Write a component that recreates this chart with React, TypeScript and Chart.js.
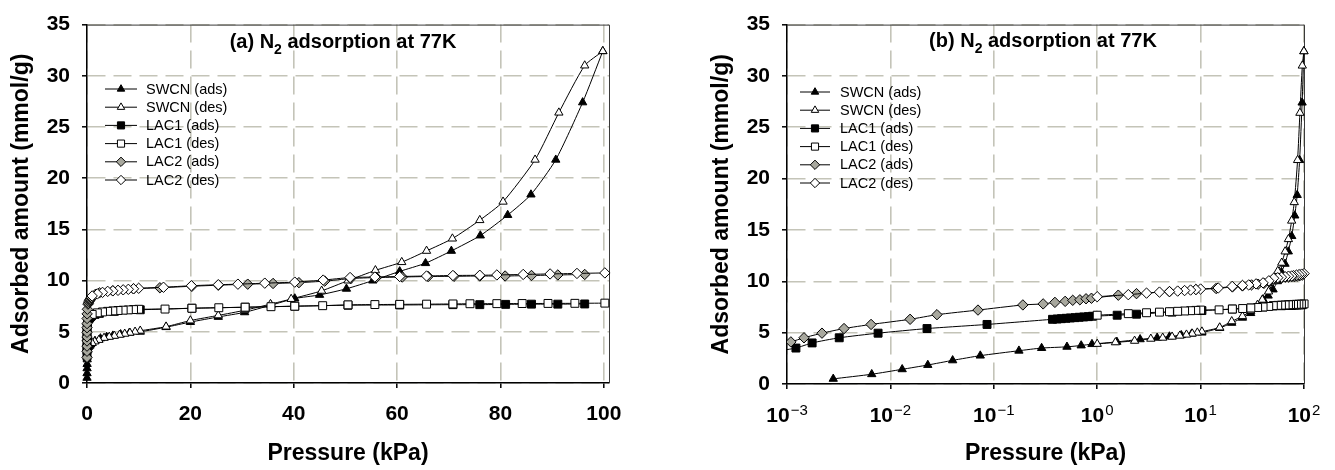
import React, { useEffect, useRef } from "react";
import { Chart, registerables } from "chart.js";

Chart.register(...registerables);

const FONT = "'Liberation Sans', Arial, Helvetica, sans-serif";

// ---------------- data ----------------
const seriesLabels = ["SWCN (ads)", "SWCN (des)", "LAC1 (ads)", "LAC1 (des)", "LAC2 (ads)", "LAC2 (des)"];

// pressure (kPa) / adsorbed amount (mmol/g)
const swcnAdsP = [0.0028, 0.0066, 0.013, 0.023, 0.04, 0.074, 0.175, 0.29, 0.51, 0.7, 0.89, 1.55, 2.6, 3.8, 5.0, 6.5, 8.2, 10.3, 15.3, 20.0, 25.4, 30.5, 35.6, 40.2, 45.0, 50.2, 55.3, 60.5, 65.5, 70.5, 76.1, 81.4, 85.9, 90.7, 95.9, 99.8];
const swcnAdsQ = [0.5, 0.95, 1.43, 1.85, 2.3, 2.76, 3.24, 3.5, 3.62, 3.75, 3.88, 4.1, 4.35, 4.5, 4.62, 4.75, 4.9, 5.0, 5.45, 5.95, 6.45, 6.9, 7.6, 8.25, 8.6, 9.2, 10.0, 10.9, 11.7, 12.9, 14.4, 16.4, 18.4, 21.8, 27.4, 32.4];

const swcnDesP = [99.8, 96.3, 91.3, 86.7, 80.5, 76.0, 70.7, 65.7, 60.9, 55.8, 50.5, 45.4, 39.5, 35.5, 30.5, 25.4, 20.0, 15.3, 10.3, 9.3, 8.3, 7.3, 6.3, 5.3, 4.3, 3.3, 2.3, 1.5, 1.0];
const swcnDesQ = [32.4, 31.0, 26.4, 21.8, 17.7, 15.9, 14.1, 12.9, 11.8, 11.0, 10.0, 9.0, 8.2, 7.7, 7.1, 6.6, 6.1, 5.5, 5.1, 5.0, 4.9, 4.8, 4.7, 4.6, 4.5, 4.4, 4.2, 4.05, 3.9];

const lac1AdsP = [0.0004, 0.0008, 0.00122, 0.00175, 0.0032, 0.0076, 0.0226, 0.086, 0.37, 0.41, 0.45, 0.5, 0.55, 0.61, 0.67, 0.74, 0.82, 0.9, 1.56, 2.4, 5.3, 10.3, 20.3, 30.6, 40.2, 50.5, 60.5, 70.8, 76.0, 81.0, 86.0, 91.1, 96.3];
const lac1AdsQ = [2.6, 3.2, 3.5, 4.0, 4.5, 4.95, 5.4, 5.8, 6.3, 6.33, 6.36, 6.4, 6.43, 6.46, 6.5, 6.53, 6.56, 6.6, 6.7, 6.8, 7.0, 7.15, 7.3, 7.4, 7.5, 7.6, 7.62, 7.65, 7.65, 7.68, 7.7, 7.7, 7.72];

const lac1DesP = [100.2, 94.4, 89.2, 84.2, 79.3, 74.1, 70.8, 65.7, 60.5, 55.7, 50.5, 45.6, 40.2, 35.6, 30.6, 25.5, 20.3, 15.1, 10.0, 9.0, 8.0, 7.0, 6.0, 5.0, 4.0, 3.0, 2.0, 1.0];
const lac1DesQ = [7.8, 7.78, 7.77, 7.76, 7.75, 7.74, 7.72, 7.7, 7.68, 7.66, 7.63, 7.55, 7.5, 7.45, 7.4, 7.35, 7.3, 7.22, 7.2, 7.17, 7.14, 7.11, 7.08, 7.04, 7.0, 6.94, 6.85, 6.7];

const lac2AdsP = [0.0002, 0.0004, 0.0007, 0.00109, 0.00146, 0.00218, 0.00356, 0.0065, 0.0155, 0.0282, 0.0703, 0.191, 0.3, 0.39, 0.49, 0.58, 0.68, 0.78, 0.88, 1.6, 2.4, 5.0, 9.0, 14.1, 20.3, 25.4, 31.1, 36.0, 41.0, 46.0, 51.0, 56.0, 61.0, 66.0, 71.0, 76.0, 80.9, 86.0, 91.1, 96.3];
const lac2AdsQ = [2.5, 3.1, 3.6, 4.1, 4.5, 4.95, 5.4, 5.8, 6.3, 6.75, 7.2, 7.7, 7.8, 7.95, 8.05, 8.15, 8.2, 8.3, 8.35, 8.65, 8.8, 9.0, 9.2, 9.3, 9.45, 9.55, 9.65, 9.72, 9.8, 9.95, 10.2, 10.3, 10.35, 10.4, 10.42, 10.45, 10.45, 10.5, 10.55, 10.6];

const lac2DesP = [100.2, 94.8, 89.6, 84.4, 79.3, 76.0, 70.8, 65.7, 60.5, 55.7, 50.9, 45.7, 40.2, 34.4, 29.2, 25.4, 20.2, 14.8, 10.0, 9.0, 8.0, 7.0, 6.0, 5.0, 4.0, 3.0, 2.0, 1.0];
const lac2DesQ = [10.75, 10.7, 10.65, 10.6, 10.55, 10.52, 10.5, 10.45, 10.4, 10.35, 10.3, 10.05, 9.85, 9.75, 9.65, 9.6, 9.5, 9.35, 9.25, 9.2, 9.15, 9.1, 9.05, 9.0, 8.95, 8.85, 8.7, 8.5];

const seriesP = [swcnAdsP, swcnDesP, lac1AdsP, lac1DesP, lac2AdsP, lac2DesP];
const seriesQ = [swcnAdsQ, swcnDesQ, lac1AdsQ, lac1DesQ, lac2AdsQ, lac2DesQ];

// ticks and texts
const yTickValues = [0, 5, 10, 15, 20, 25, 30, 35];
const xTickValuesLinear = [0, 20, 40, 60, 80, 100];
const xTickValuesLog = [0.001, 0.01, 0.1, 1, 10, 100];
const xTickLogBase = "10";
const xTickLogExponents = ["\u22123", "\u22122", "\u22121", "0", "1", "2"];
const titleA = ["(a) N", "2", " adsorption at 77K"];
const titleB = ["(b) N", "2", " adsorption at 77K"];
const yAxisTitle = "Adsorbed amount (mmol/g)";
const xAxisTitle = "Pressure (kPa)";

// ---------------- styles ----------------
const markerStyles = [
  { shape: "triangle", fill: "#000000", radius: 4.8 },
  { shape: "triangle", fill: "#ffffff", radius: 4.8 },
  { shape: "rect", fill: "#000000", radius: 5.6 },
  { shape: "rect", fill: "#ffffff", radius: 5.6 },
  { shape: "rectRot", fill: "#a8a89e", radius: 5.2 },
  { shape: "rectRot", fill: "#ffffff", radius: 5.2 },
];
const GRID = "rgb(196,196,184)";

function drawMarker(ctx: CanvasRenderingContext2D, shape: string, x: number, y: number, r: number, fill: string) {
  ctx.beginPath();
  if (shape === "triangle") {
    let a = 0;
    ctx.moveTo(x + Math.sin(a) * r, y - Math.cos(a) * r);
    a += (2 * Math.PI) / 3;
    ctx.lineTo(x + Math.sin(a) * r, y - Math.cos(a) * r);
    a += (2 * Math.PI) / 3;
    ctx.lineTo(x + Math.sin(a) * r, y - Math.cos(a) * r);
    ctx.closePath();
  } else if (shape === "rect") {
    const h = r * Math.SQRT1_2;
    ctx.rect(x - h, y - h, 2 * h, 2 * h);
  } else {
    ctx.moveTo(x - r, y);
    ctx.lineTo(x, y - r);
    ctx.lineTo(x + r, y);
    ctx.lineTo(x, y + r);
    ctx.closePath();
  }
  ctx.fillStyle = fill;
  ctx.fill();
  ctx.lineWidth = 1;
  ctx.strokeStyle = "#000";
  ctx.stroke();
}

const framePlugin = {
  id: "plotFrame",
  beforeDatasetsDraw(chart: any) {
    const { ctx, chartArea } = chart;
    ctx.save();
    ctx.strokeStyle = "#3a3a3a";
    ctx.lineWidth = 1;
    ctx.beginPath();
    ctx.moveTo(chartArea.left, chartArea.top + 0.5);
    ctx.lineTo(chartArea.right + 0.5, chartArea.top + 0.5);
    ctx.lineTo(chartArea.right + 0.5, chartArea.bottom);
    ctx.stroke();
    ctx.restore();
  },
};

const seriesLegendPlugin = {
  id: "seriesLegend",
  afterDraw(chart: any, _args: any, opts: any) {
    const ctx: CanvasRenderingContext2D = chart.ctx;
    ctx.save();
    chart.data.datasets.forEach((ds: any, i: number) => {
      const y = opts.y + i * opts.rowH;
      ctx.strokeStyle = "#000";
      ctx.lineWidth = 1;
      ctx.beginPath();
      ctx.moveTo(opts.x, y);
      ctx.lineTo(opts.x + opts.lineLen, y);
      ctx.stroke();
      drawMarker(ctx, ds.pointStyle, opts.x + opts.lineLen / 2, y, ds.pointRadius * 0.9, ds.pointBackgroundColor);
      ctx.fillStyle = "#000";
      ctx.font = `${opts.fontSize}px ${FONT}`;
      ctx.textAlign = "left";
      ctx.textBaseline = "middle";
      ctx.fillText(ds.label, opts.x + opts.lineLen + opts.gap, y + 0.5);
    });
    ctx.restore();
  },
};

const chartTitlePlugin = {
  id: "chartTitle",
  afterDraw(chart: any, _args: any, opts: any) {
    const ctx: CanvasRenderingContext2D = chart.ctx;
    const [pre, sub, post] = opts.parts;
    ctx.save();
    const mainFont = `bold ${opts.size}px ${FONT}`;
    const subFont = `bold ${opts.subSize}px ${FONT}`;
    ctx.font = mainFont;
    const w1 = ctx.measureText(pre).width;
    const w3 = ctx.measureText(post).width;
    ctx.font = subFont;
    const w2 = ctx.measureText(sub).width;
    const x0 = opts.cx - (w1 + w2 + w3) / 2;
    ctx.fillStyle = "#000";
    ctx.textAlign = "left";
    ctx.textBaseline = "alphabetic";
    ctx.font = mainFont;
    ctx.fillText(pre, x0, opts.baseline);
    ctx.font = subFont;
    ctx.fillText(sub, x0 + w1, opts.baseline + opts.subDrop);
    ctx.font = mainFont;
    ctx.fillText(post, x0 + w1 + w2, opts.baseline);
    ctx.restore();
  },
};

const logTickPlugin = {
  id: "logTicks",
  afterDraw(chart: any, _args: any, opts: any) {
    const ctx: CanvasRenderingContext2D = chart.ctx;
    const scale = chart.scales.x;
    ctx.save();
    ctx.fillStyle = "#000";
    ctx.textAlign = "left";
    ctx.textBaseline = "alphabetic";
    xTickValuesLog.forEach((v, i) => {
      const px = scale.getPixelForValue(v);
      ctx.font = opts.baseFont;
      const w1 = ctx.measureText(xTickLogBase).width;
      ctx.font = opts.expFont;
      const w2 = ctx.measureText(xTickLogExponents[i]).width;
      const x0 = px - (w1 + opts.expGap + w2) / 2;
      ctx.font = opts.baseFont;
      ctx.fillText(xTickLogBase, x0, opts.baseline);
      ctx.font = opts.expFont;
      ctx.fillText(xTickLogExponents[i], x0 + w1 + opts.expGap, opts.baseline - opts.expRise);
    });
    ctx.restore();
  },
};

function buildConfig(isLog: boolean): any {
  const datasets = seriesLabels.map((label, i) => ({
    label,
    data: seriesP[i].map((p, j) => ({ x: p, y: seriesQ[i][j] })),
    showLine: true,
    borderColor: "#000",
    borderWidth: 1,
    tension: 0.2,
    pointStyle: markerStyles[i].shape,
    pointRadius: markerStyles[i].radius,
    pointHoverRadius: markerStyles[i].radius,
    pointBackgroundColor: markerStyles[i].fill,
    pointBorderColor: "#000",
    pointBorderWidth: 1,
    order: seriesLabels.length - i,
    clip: isLog ? { left: 0, top: 8, right: 8, bottom: 8 } : 8,
  }));

  const tickFont = { family: FONT, size: 21, weight: "bold" as const };
  const titleFont = { family: FONT, size: 23, weight: "bold" as const };

  return {
    type: "scatter",
    data: { datasets },
    options: {
      responsive: false,
      maintainAspectRatio: false,
      animation: false,
      devicePixelRatio: 1,
      events: [],
      layout: {
        padding: isLog ? { left: 0, top: 17, right: 31, bottom: 0 } : { left: 0, top: 20, right: 51, bottom: 0 },
      },
      plugins: {
        legend: { display: false },
        tooltip: { enabled: false },
        seriesLegend: { x: isLog ? 100 : 105, y: isLog ? 92 : 89, rowH: 18.2, lineLen: isLog ? 30 : 32, gap: isLog ? 10 : 9, fontSize: 14.5 },
        chartTitle: { parts: isLog ? titleB : titleA, cx: 343, baseline: isLog ? 47 : 48, size: 20, subSize: 14, subDrop: 6 },
        logTicks: { baseFont: `bold 21px ${FONT}`, expFont: `15px ${FONT}`, baseline: 422, expRise: 7, expGap: 1 },
      },
      scales: {
        x: {
          type: isLog ? "logarithmic" : "linear",
          min: isLog ? 0.001 : 0,
          max: isLog ? 100 : 101,
          afterBuildTicks: (s: any) => {
            s.ticks = (isLog ? xTickValuesLog : xTickValuesLinear).map((v) => ({ value: v }));
          },
          afterFit: (s: any) => {
            s.height = isLog ? 86 : 87;
          },
          grid: {
            color: GRID,
            lineWidth: 1.6,
            drawTicks: true,
            tickLength: 5,
            tickColor: "#000",
            tickWidth: 1.5,
            tickBorderDash: [],
          },
          border: { display: true, color: "#000", width: 1.5, dash: [18, 8] },
          ticks: {
            display: !isLog,
            font: tickFont,
            color: "#000",
            padding: 14,
            maxRotation: 0,
            autoSkip: false,
            callback: (v: any) => String(v),
          },
          title: { display: true, text: xAxisTitle, font: titleFont, color: "#000", padding: { top: 0, bottom: 3 } },
        },
        y: {
          type: "linear",
          min: 0,
          max: 35,
          afterBuildTicks: (s: any) => {
            s.ticks = yTickValues.map((v) => ({ value: v }));
          },
          afterFit: (s: any) => {
            s.width = 87;
          },
          grid: {
            color: GRID,
            lineWidth: 1.6,
            drawTicks: true,
            tickLength: 5,
            tickColor: "#000",
            tickWidth: 1.5,
            tickBorderDash: [],
          },
          border: { display: true, color: "#000", width: 1.5, dash: [18, 8] },
          ticks: { font: tickFont, color: "#000", padding: 12, callback: (v: any) => String(v) },
          title: { display: true, text: yAxisTitle, font: titleFont, color: "#000", padding: { top: 8, bottom: 0 } },
        },
      },
    },
    plugins: isLog
      ? [framePlugin, seriesLegendPlugin, chartTitlePlugin, logTickPlugin]
      : [framePlugin, seriesLegendPlugin, chartTitlePlugin],
  };
}

export default function App() {
  const leftRef = useRef<HTMLCanvasElement>(null);
  const rightRef = useRef<HTMLCanvasElement>(null);

  useEffect(() => {
    const a = new Chart(leftRef.current as HTMLCanvasElement, buildConfig(false));
    const b = new Chart(rightRef.current as HTMLCanvasElement, buildConfig(true));
    return () => {
      a.destroy();
      b.destroy();
    };
  }, []);

  return (
    <div style={{ position: "fixed", left: 0, top: 0, width: 1335, height: 470, background: "#ffffff" }}>
      <canvas
        ref={leftRef}
        width={660}
        height={470}
        style={{ position: "absolute", left: 0, top: 0, width: 660, height: 470 }}
      />
      <canvas
        ref={rightRef}
        width={635}
        height={470}
        style={{ position: "absolute", left: 700, top: 0, width: 635, height: 470 }}
      />
    </div>
  );
}
